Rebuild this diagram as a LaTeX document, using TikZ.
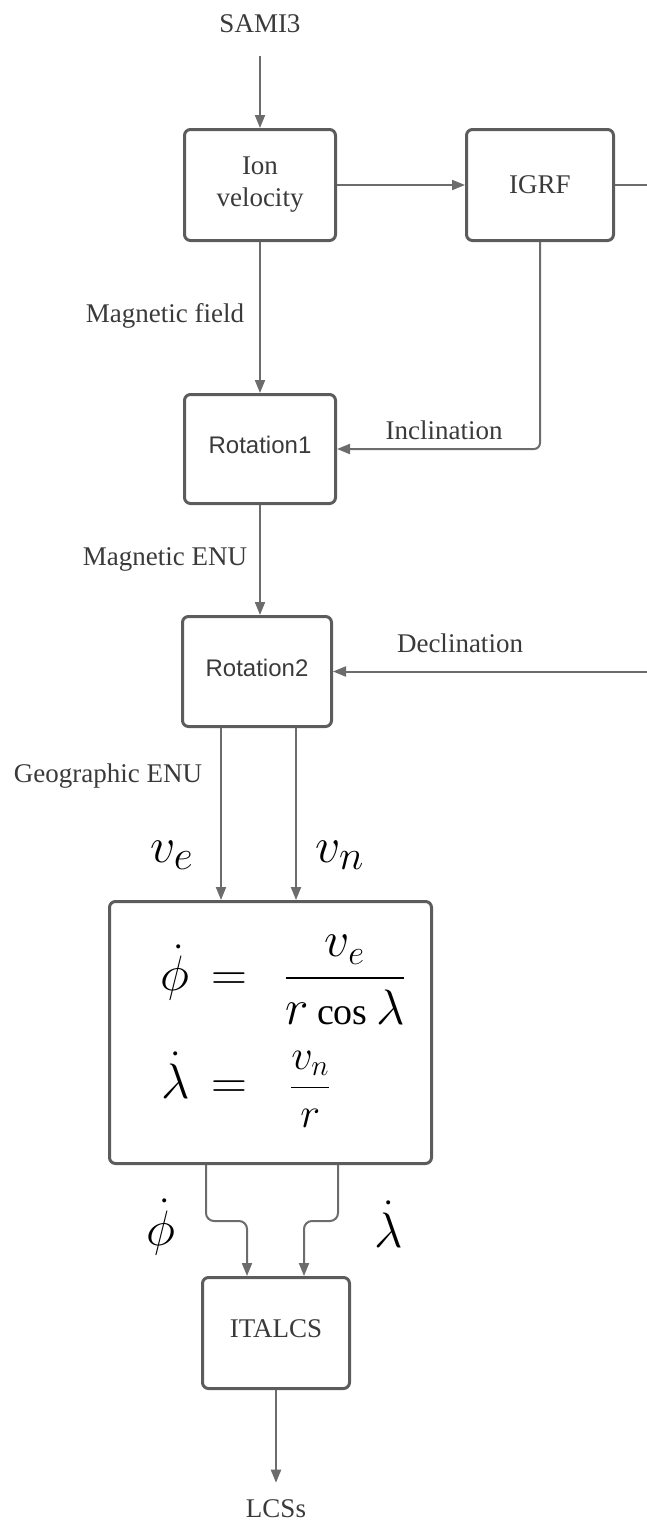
\documentclass[tikz,border=0pt]{standalone}
\usepackage{amsmath,amssymb}
\usepackage{fontspec}
\setmainfont{Liberation Serif}
\newfontfamily\rotfont{Liberation Sans}
\usetikzlibrary{arrows.meta,positioning,calc}

\definecolor{linegray}{RGB}{108,108,108}
\definecolor{boxgray}{RGB}{92,92,92}
\definecolor{txtgray}{RGB}{58,58,58}

\tikzset{
  block/.style={draw=boxgray, line width=1.5pt, rounded corners=3pt, align=center,
    text=txtgray, inner sep=0pt, font=\fontsize{13.5}{16}\selectfont},
  flow/.style={draw=linegray, line width=1pt, -{Triangle[length=6.5pt,width=5pt]}},
  lbl/.style={text=txtgray, inner sep=0pt, anchor=base, font=\fontsize{13.5}{16}\selectfont},
  mlbl/.style={text=black, inner sep=0pt, anchor=base}
}

\begin{document}
\begin{tikzpicture}[x=0.5pt, y=-0.5pt]
    \useasboundingbox (0,0) rectangle (647,1521);

    % Blocks
    \node[block, minimum width=75.5pt, minimum height=55.5pt] (ion) at (260,185) {Ion\\velocity};
    \node[block, minimum width=73.5pt, minimum height=55.5pt] (igrf) at (540,185) {IGRF};
    \node[block, minimum width=75.5pt, minimum height=54.5pt, text depth=4pt,
      font=\rotfont\fontsize{12}{14}\selectfont] (rotone) at (260,449) {Rotation1};
    \node[block, minimum width=74.5pt, minimum height=55pt, text depth=4pt,
      font=\rotfont\fontsize{12}{14}\selectfont] (rottwo) at (257,671.5) {Rotation2};
    \node[block, minimum width=161pt, minimum height=131pt] (eqn) at (270.5,1032.5) {};
    \node[block, minimum width=73.5pt, minimum height=55.5pt, text depth=4pt] (italcs) at (276,1333) {ITALCS};

    % Equations inside the big block
    \node[mlbl, anchor=base west, font=\fontsize{26}{30}\selectfont] (phieq) at (160,990.5)
      {$\displaystyle \dot{\phi}\, = \;\,\frac{v_e}{r\,\textrm{\fontsize{19}{20}\selectfont cos}\,\lambda}$};
    \node[mlbl, anchor=base west, font=\fontsize{26}{30}\selectfont] (lameq) at (161,1098)
      {$\dot{\lambda}\, = \;\;\;$\scalebox{0.85}{$\displaystyle\frac{v_n}{r}$}};

    % Input and output
    \node[lbl] (sami) at (260,32) {SAMI3};
    \node[lbl] (lcs) at (276,1517) {LCSs};
    \draw[flow, shorten <=11.5pt] (sami) -- (sami |- ion.north);
    \draw[flow, shorten >=8pt] (italcs) -- (lcs);

    % Field model
    \draw[flow] (ion) -- (igrf);
    \draw[flow] (ion) -- (rotone);
    \node[lbl] (magfield) at (165,322) {Magnetic field};
    \draw[flow, rounded corners=3pt] (igrf.south) |- (rotone.east);
    \node[lbl] (incl) at (444,439) {Inclination};

    % Rotations
    \draw[flow] (rotone.south) -- (rotone.south |- rottwo.north);
    \node[lbl] (magenu) at (165,565) {Magnetic ENU};
    \draw[flow] (igrf.east) -- ++(45,0) |- (rottwo.east);
    \node[lbl] (decl) at (460,652) {Declination};

    % Velocity components
    \coordinate (veout) at ([xshift=-18pt]rottwo.south);
    \coordinate (vnout) at ([xshift=19.5pt]rottwo.south);
    \draw[flow] (veout) -- (veout |- eqn.north);
    \draw[flow] (vnout) -- (vnout |- eqn.north);
    \node[lbl] (geoenu) at (108,782) {Geographic ENU};
    \node[mlbl, font=\fontsize{32}{36}\selectfont] (velbl) at (172,862) {$v_e$};
    \node[mlbl, font=\fontsize{32}{36}\selectfont] (vnlbl) at (340,862) {$v_n$};

    % Angular rates
    \coordinate (phiout) at ([xshift=-32.25pt]eqn.south);
    \coordinate (lamout) at ([xshift=33.75pt]eqn.south);
    \coordinate (phiin) at ([xshift=-14.5pt]italcs.north);
    \coordinate (lamin) at ([xshift=14pt]italcs.north);
    \draw[flow, rounded corners=4pt] (phiout) -- ++(0,56) -| (phiin);
    \draw[flow, rounded corners=4pt] (lamout) -- ++(0,56) -| (lamin);
    \node[mlbl, font=\fontsize{29}{33}\selectfont] (philbl) at (161,1245) {$\dot{\phi}$};
    \node[mlbl, font=\fontsize{29}{33}\selectfont] (lamlbl) at (389,1247) {$\dot{\lambda}$};
\end{tikzpicture}
\end{document}
